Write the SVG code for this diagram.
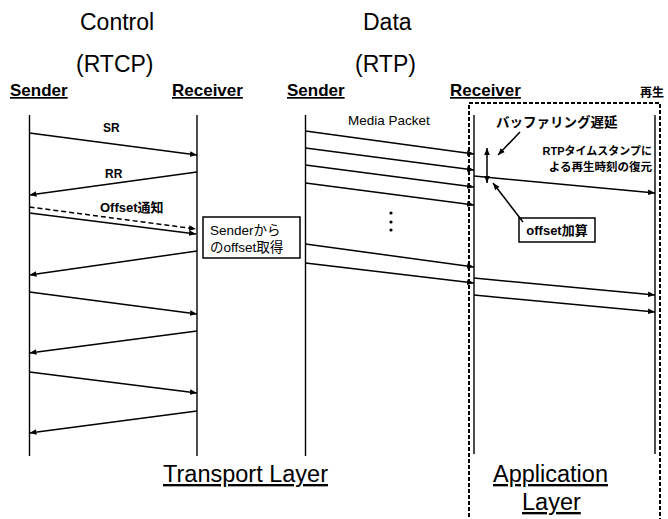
<svg xmlns="http://www.w3.org/2000/svg" width="668" height="519" viewBox="0 0 668 519">
<defs>
<marker id="ah" viewBox="0 0 10 10" refX="10" refY="5" markerWidth="7" markerHeight="7" markerUnits="userSpaceOnUse" orient="auto-start-reverse">
<path d="M0,1 L10,5 L0,9 z" fill="#000"/>
</marker>
<style>
text{font-family:"Liberation Sans","Noto Sans CJK JP",Arial,sans-serif;fill:#000}
.big{font-size:23px}
.hdr{font-size:17px;font-weight:bold;text-decoration:underline}
.lbl{font-size:12px;font-weight:bold}
.jp{font-size:13px;font-weight:bold}
.life{stroke:#000;stroke-width:1.4;fill:none}
.msg{stroke:#000;stroke-width:1.5;fill:none;marker-end:url(#ah)}
.dash{stroke-dasharray:5 3}
.box{fill:#fff;stroke:#000;stroke-width:1.5}
.layer{font-size:23.5px;text-decoration:underline}
</style>
</defs>
<rect width="668" height="519" fill="#fff"/>

<g id="titles">
<text class="big" x="80" y="30">Control</text>
<text class="big" x="76" y="72">(RTCP)</text>
<text class="big" x="363" y="30">Data</text>
<text class="big" x="355" y="72">(RTP)</text>
</g>

<g id="app-layer-box">
<rect x="469" y="103" width="191" height="430" fill="none" stroke="#000" stroke-width="2" stroke-dasharray="4 2"/>
</g>

<g id="rtcp-sender">
<text class="hdr" x="10" y="96">Sender</text>
<line class="life" x1="29.5" y1="115" x2="29.5" y2="456"/>
</g>
<g id="rtcp-receiver">
<text class="hdr" x="172" y="96">Receiver</text>
<line class="life" x1="197" y1="115" x2="197" y2="456"/>
</g>
<g id="rtp-sender">
<text class="hdr" x="287" y="96">Sender</text>
<line class="life" x1="305.5" y1="115" x2="305.5" y2="456"/>
</g>
<g id="rtp-receiver">
<text class="hdr" x="450" y="96">Receiver</text>
<line class="life" x1="474" y1="115" x2="474" y2="454"/>
</g>
<g id="playback">
<text class="jp" x="640" y="97" style="font-size:12px">再生</text>
<line class="life" x1="655" y1="115" x2="655" y2="454"/>
</g>

<g id="offset-get">
<rect class="box" x="203" y="217" width="97" height="41"/>
<text x="210" y="235" style="font-size:13.5px">Senderから</text>
<text x="210" y="252" style="font-size:13.5px">のoffset取得</text>
</g>

<g id="offset-add">
<rect class="box" x="519" y="218" width="76" height="24"/>
<text class="jp" x="557" y="235" text-anchor="middle">offset加算</text>
</g>

<g id="labels">
<text class="lbl" x="103" y="132">SR</text>
<text class="lbl" x="105" y="178">RR</text>
<text class="jp" x="100" y="212">Offset通知</text>
<text x="348" y="125" style="font-size:13.5px">Media Packet</text>
<text class="jp" x="496" y="127" style="font-size:13.5px">バッファリング遅延</text>
<text class="jp" x="652" y="155" text-anchor="end" style="font-size:11px">RTPタイムスタンプに</text>
<text class="jp" x="652" y="171" text-anchor="end" style="font-size:11.5px">よる再生時刻の復元</text>
<circle cx="391" cy="213" r="1.6"/>
<circle cx="391" cy="222" r="1.6"/>
<circle cx="391" cy="230" r="1.6"/>
</g>

<g id="connectors">
<line class="msg" x1="29.5" y1="133" x2="197" y2="155"/>
<line class="msg" x1="197" y1="172" x2="29.5" y2="195"/>
<line class="msg dash" x1="29.5" y1="207" x2="196" y2="229"/>
<line class="msg" x1="29.5" y1="213" x2="196" y2="234"/>
<line class="msg" x1="197" y1="251" x2="29.5" y2="275"/>
<line class="msg" x1="29.5" y1="292" x2="197" y2="314"/>
<line class="msg" x1="197" y1="331" x2="29.5" y2="353"/>
<line class="msg" x1="29.5" y1="372" x2="197" y2="393"/>
<line class="msg" x1="197" y1="411" x2="29.5" y2="433"/>

<line class="msg" x1="305.5" y1="131" x2="474" y2="154"/>
<line class="msg" x1="305.5" y1="148" x2="474" y2="170"/>
<line class="msg" x1="305.5" y1="165" x2="474" y2="187"/>
<line class="msg" x1="305.5" y1="183" x2="474" y2="205"/>
<line class="msg" x1="305.5" y1="244" x2="474" y2="267"/>
<line class="msg" x1="305.5" y1="263" x2="474" y2="283"/>

<line class="msg" x1="474" y1="176" x2="655" y2="193"/>
<line class="msg" x1="474" y1="278" x2="655" y2="295"/>
<line class="msg" x1="474" y1="295" x2="655" y2="312"/>

<line class="msg" x1="487" y1="148" x2="487" y2="183" style="marker-start:url(#ah)"/>
<line class="msg" x1="520" y1="132" x2="498" y2="155"/>
<line class="msg" x1="523" y1="222" x2="493" y2="183"/>
</g>

<g id="layers">
<text class="layer" x="163" y="482">Transport Layer</text>
<text class="layer" x="493" y="482">Application</text>
<text class="layer" x="522" y="510">Layer</text>
</g>
</svg>
